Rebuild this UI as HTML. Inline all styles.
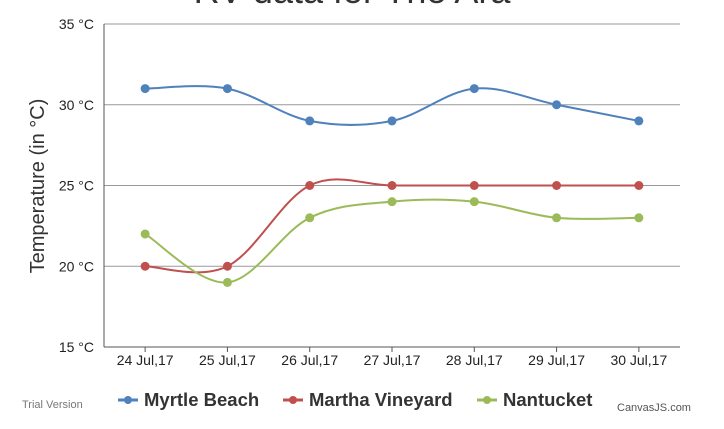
<!DOCTYPE html>
<html><head><meta charset="utf-8"><style>
body{margin:0;background:#fff;overflow:hidden}
svg{display:block;font-family:"Liberation Sans",sans-serif}
</style></head><body>
<svg id="c" width="724" height="429">
<text x="352" y="3" font-size="36" text-anchor="middle" fill="#333">RV data for The Ara</text>
<g id="grid"></g><g id="series"></g>
<text transform="translate(44,186) rotate(-90)" font-size="20" text-anchor="middle" fill="#333">Temperature (in °C)</text>
<text x="22" y="408" font-size="11" fill="#777">Trial Version</text>
<text x="617" y="411" font-size="11" fill="#555">CanvasJS.com</text>
<g id="legend"></g>
</svg>
<script>
const categories=["24 Jul,17","25 Jul,17","26 Jul,17","27 Jul,17","28 Jul,17","29 Jul,17","30 Jul,17"];
const yTicks=[15,20,25,30,35];
const seriesNames=["Myrtle Beach","Martha Vineyard","Nantucket"];
const seriesColors=["#4f81bc","#c0504e","#9bbb58"];
const myrtle=[31,31,29,29,31,30,29];
const martha=[20,20,25,25,25,25,25];
const nantucket=[22,19,23,24,24,23,23];
const allSeries=[myrtle,martha,nantucket];
const L=104,R=680,T=24,B=347,yMin=15,yMax=35;
const xs=i=>L+(R-L)/categories.length*(i+0.5);
const ys=v=>B-(v-yMin)/(yMax-yMin)*(B-T);
const NS="http://www.w3.org/2000/svg";
function mk(tag,attrs,parent){const e=document.createElementNS(NS,tag);for(const k in attrs)e.setAttribute(k,attrs[k]);parent.appendChild(e);return e;}
const grid=document.getElementById('grid');
yTicks.forEach(v=>{
  const ln=mk('line',{x1:L,x2:R,y1:ys(v),y2:ys(v),stroke:v===yMin?'#555':'#999','stroke-width':1},grid);
  
  
  const t=mk('text',{x:L-10,y:ys(v)+5,'font-size':14,'text-anchor':'end',fill:'#222'},grid);
  t.textContent=v+' °C';
  
  
});
const ax=mk('line',{x1:L,x2:L,y1:T,y2:B,stroke:'#555','stroke-width':1},grid);


categories.forEach((c,i)=>{
  const tk=mk('line',{x1:xs(i),x2:xs(i),y1:B,y2:B+5,stroke:'#555'},grid);
  
  
  const t=mk('text',{x:xs(i),y:B+18,'font-size':14,'text-anchor':'middle',fill:'#222'},grid);
  t.textContent=c;
  
  
});
const sg=document.getElementById('series');
function spline(pts){
  let d='M'+pts[0][0]+','+pts[0][1];const k=0.17;
  for(let i=0;i<pts.length-1;i++){
    const p0=pts[i-1]||pts[i],p1=pts[i],p2=pts[i+1],p3=pts[i+2]||p2;
    d+=' C'+(p1[0]+(p2[0]-p0[0])*k)+','+(p1[1]+(p2[1]-p0[1])*k)+' '+(p2[0]-(p3[0]-p1[0])*k)+','+(p2[1]-(p3[1]-p1[1])*k)+' '+p2[0]+','+p2[1];
  }
  return d;
}
allSeries.forEach((s,si)=>{
  const pts=s.map((v,i)=>[xs(i),ys(v)]);
  const p=mk('path',{d:spline(pts),fill:'none',stroke:seriesColors[si],'stroke-width':2},sg);
  
  
  pts.forEach(q=>{
    const c=mk('circle',{cx:q[0],cy:q[1],r:4.5,fill:seriesColors[si]},sg);
    
    
  });
});
const lg=document.getElementById('legend');
const lx=[118,283,477];
seriesNames.forEach((n,i)=>{
  const g=mk('g',{},lg);
  
  
  mk('line',{x1:lx[i],x2:lx[i]+20,y1:400,y2:400,stroke:seriesColors[i],'stroke-width':3},g);
  mk('circle',{cx:lx[i]+10,cy:400,r:4,fill:seriesColors[i]},g);
  const t=mk('text',{x:lx[i]+26,y:406,'font-size':18.5,'font-weight':'bold',fill:'#333'},g);
  t.textContent=n;
});
</script>
</body></html>
